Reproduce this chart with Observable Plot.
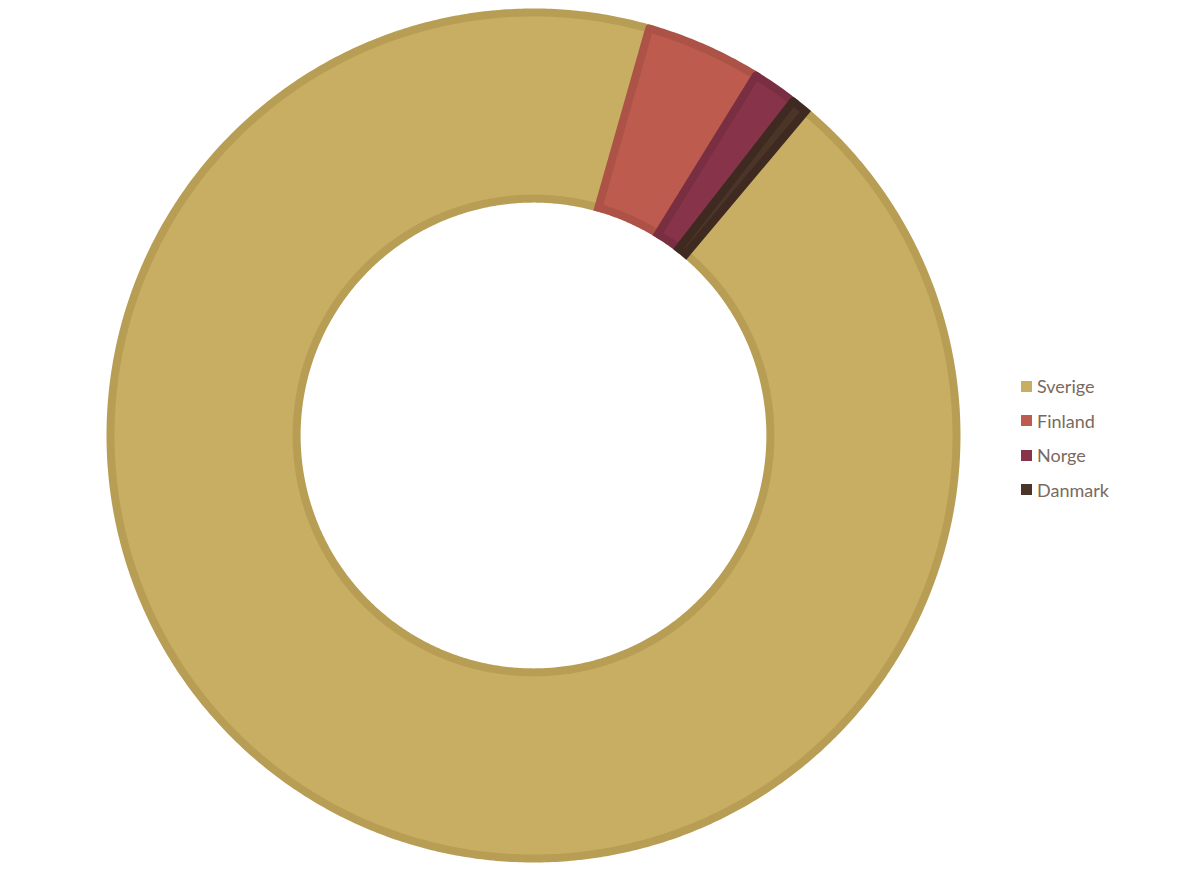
<!DOCTYPE html>
<html>
<head>
<meta charset="utf-8">
<script src="https://cdn.jsdelivr.net/npm/d3@7"></script>
<script src="https://cdn.jsdelivr.net/npm/@observablehq/plot@0.6"></script>
<style>
  html, body { margin: 0; padding: 0; background: #fff; }
  #wrap { position: relative; width: 1200px; height: 890px; }
  #legend { position: absolute; left: 1021px; top: 369px; font-family: Lato, "Open Sans", sans-serif; font-size: 18px; color: #7A6A5E; }
  .row { display: flex; align-items: center; height: 34.5px; }
  .sw { width: 11px; height: 11px; margin-right: 5px; flex: none; }
</style>
</head>
<body>
<div id="wrap"><div id="legend"></div></div>
<script>
const countries = ["Sverige", "Finland", "Norge", "Danmark"];
const shares = [93.3, 4.4, 1.7, 0.6];
const fills = ["#C8AE62", "#BC5B4E", "#87344A", "#4B3428"];
const strokes = ["#B89E54", "#AD5247", "#7A2E42", "#3E2A20"];

const startDeg = 40;
const outerR = 1;
const innerR = 0.56;

const pie = d3.pie().sort(null)
  .startAngle(startDeg * Math.PI / 180)
  .endAngle(startDeg * Math.PI / 180 + 2 * Math.PI);
const arcs = pie(shares);

// build closed ring-segment polygons from pie angles
function slicePoints(a, name) {
  const pts = [];
  const n = Math.max(2, Math.ceil((a.endAngle - a.startAngle) / (Math.PI / 360)));
  for (let i = 0; i <= n; i++) {
    const t = a.startAngle + (a.endAngle - a.startAngle) * i / n;
    pts.push({name, x: outerR * Math.sin(t), y: outerR * Math.cos(t)});
  }
  for (let i = n; i >= 0; i--) {
    const t = a.startAngle + (a.endAngle - a.startAngle) * i / n;
    pts.push({name, x: innerR * Math.sin(t), y: innerR * Math.cos(t)});
  }
  pts.push({...pts[0]});
  return pts;
}

const W = 1200, H = 890, cx = 533, cy = 435, k = 423;

const marks = arcs.map((a, i) =>
  Plot.line(slicePoints(a, countries[i]), {
    x: "x", y: "y",
    fill: fills[i], stroke: strokes[i],
    strokeWidth: 8, strokeLinejoin: "miter", strokeMiterlimit: 4
  })
);

const chart = Plot.plot({
  width: W, height: H, margin: 0,
  x: {domain: [-cx / k, (W - cx) / k], axis: null},
  y: {domain: [-(H - cy) / k, cy / k], axis: null},
  marks
});
document.getElementById("wrap").prepend(chart);

const legend = document.getElementById("legend");
countries.forEach((c, i) => {
  const row = document.createElement("div");
  row.className = "row";
  const sw = document.createElement("span");
  sw.className = "sw";
  sw.style.background = fills[i];
  const lab = document.createElement("span");
  lab.textContent = c;
  row.append(sw, lab);
  legend.append(row);
});
</script>
</body>
</html>
